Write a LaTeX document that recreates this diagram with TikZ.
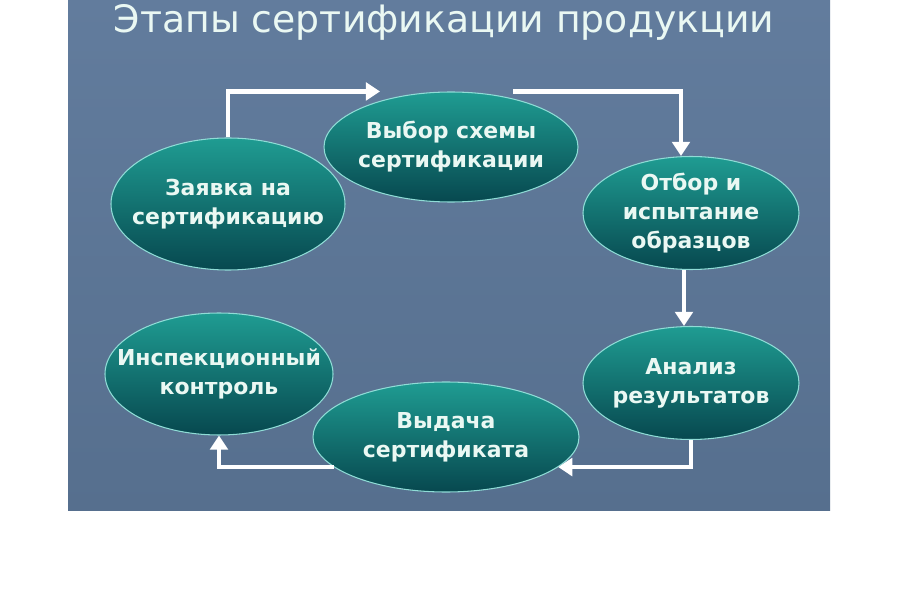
\documentclass[tikz,border=0pt]{standalone}
\usepackage{fontspec}
\setmainfont{DejaVu Sans}
\usetikzlibrary{shapes.geometric,arrows.meta}
\definecolor{slatetop}{HTML}{627C9D}
\definecolor{slatebot}{HTML}{566F8E}
\definecolor{stagetop}{HTML}{1F9C92}
\definecolor{stagebot}{HTML}{07484F}
\definecolor{stageedge}{HTML}{8FDCD6}
\definecolor{stagetxt}{HTML}{EAF8F3}
\tikzset{stage/.style={ellipse, draw=stageedge, line width=0.6pt,
    top color=stagetop, bottom color=stagebot, inner sep=0pt},
  stagetext/.style={text=stagetxt, align=center,
    font=\bfseries\fontsize{12.5}{16.5}\selectfont},
  flow/.style={draw=white, line width=2.5pt,
    -{Triangle[width=10pt,length=8pt]}}}

\begin{document}
\begin{tikzpicture}
  \useasboundingbox (0,0) rectangle (18,12);
  \fill[white] (0,0) rectangle (18,12);
  \shade[top color=slatetop, bottom color=slatebot] (1.36,1.78) rectangle (16.6,12);
  \node[anchor=base, text=stagetxt, font=\fontsize{21.5}{24}\selectfont] (title)
    at (8.88,11.34) {Этапы сертификации продукции};
  % stages
  \node[stage, minimum width=4.68cm, minimum height=2.64cm,
    label={[stagetext]center:Заявка на\\сертификацию}] (zayavka) at (4.56,7.92) {};
  \node[stage, minimum width=5.08cm, minimum height=2.2cm,
    label={[stagetext]center:Выбор схемы\\сертификации}] (vybor) at (9.02,9.06) {};
  \node[stage, minimum width=4.32cm, minimum height=2.26cm,
    label={[stagetext]center:Отбор и\\испытание\\образцов}] (otbor) at (13.82,7.74) {};
  \node[stage, minimum width=4.32cm, minimum height=2.26cm,
    label={[stagetext]center:Анализ\\результатов}] (analiz) at (13.82,4.34) {};
  \node[stage, minimum width=5.32cm, minimum height=2.2cm,
    label={[stagetext]center:Выдача\\сертификата}] (vydacha) at (8.92,3.26) {};
  \node[stage, minimum width=4.56cm, minimum height=2.44cm,
    label={[stagetext]center:Инспекционный\\контроль}] (inspek) at (4.38,4.52) {};
  % arrows
  \draw[flow] (zayavka.north) |- ([xshift=-1.42cm]vybor.north);
  \draw[flow] ([xshift=1.24cm]vybor.north) -| ([xshift=-0.2cm]otbor.north);
  \draw[flow] ([xshift=-0.14cm]otbor.south) -- ([xshift=-0.14cm]analiz.north);
  \draw[flow] (analiz.south) |- (vydacha.-15);
  \draw[flow] (vydacha.195) -| (inspek.south);
\end{tikzpicture}
\end{document}
